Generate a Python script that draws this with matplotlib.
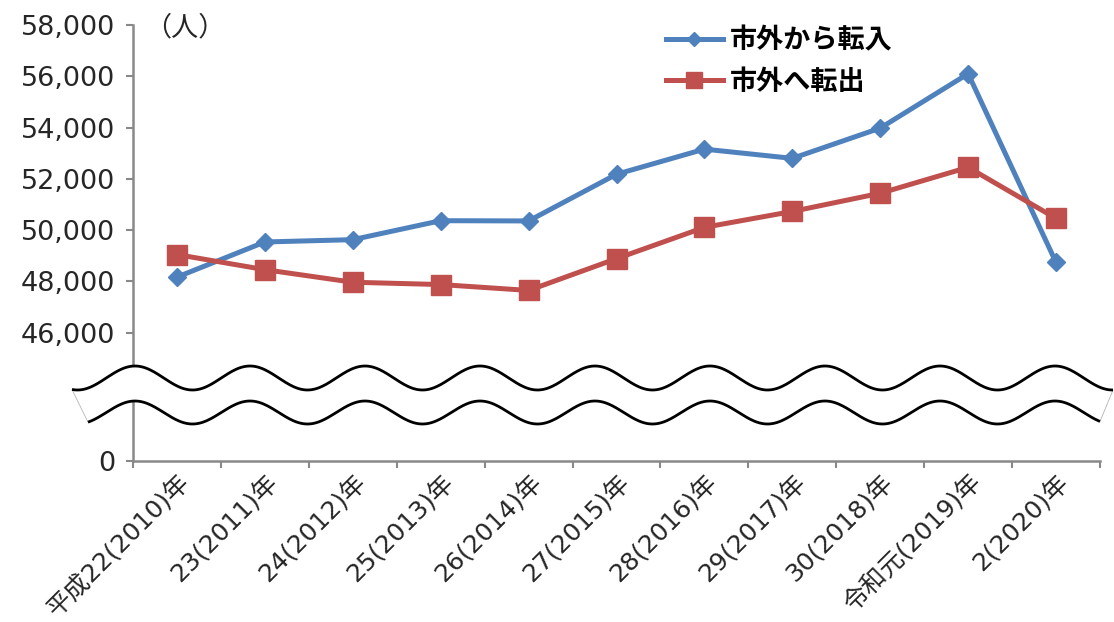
import numpy as np
import matplotlib
matplotlib.use("Agg")
import matplotlib.pyplot as plt
from matplotlib.transforms import Affine2D
from matplotlib.patches import Polygon

# --- data -------------------------------------------------------------
years = ["平成22(2010)年", "23(2011)年", "24(2012)年", "25(2013)年", "26(2014)年",
         "27(2015)年", "28(2016)年", "29(2017)年", "30(2018)年", "令和元(2019)年",
         "2(2020)年"]
moved_in = [48170, 49540, 49630, 50370, 50360, 52180, 53160, 52800, 53980, 56100, 48740]
moved_out = [49050, 48460, 47970, 47880, 47650, 48890, 50110, 50730, 51440, 52450, 50460]
series_names = ["市外から転入", "市外へ転出"]
ytick_values = [46000, 48000, 50000, 52000, 54000, 56000, 58000]
unit_label = "（人）"
axis_floor = 41000   # the axis is broken: the bottom of the frame stands for 0
axis_top = 58000

# --- style ------------------------------------------------------------
BLUE = "#4F81BD"
RED = "#C0504D"
AXIS_GRAY = "#898989"
TEXT = "#262626"
W, H = 1114, 622
LATIN_CJK = ["DejaVu Sans", "Noto Sans CJK JP"]
CJK = ["Noto Sans CJK JP", "DejaVu Sans"]

plt.rcParams["font.family"] = LATIN_CJK

fig = plt.figure(figsize=(W / 100, H / 100), dpi=100)
fig.patch.set_facecolor("white")
ax = fig.add_axes([133 / W, 1 - 461 / H, (1100 - 133) / W, (461 - 25) / H])

x = np.arange(len(years))
ax.plot(x, moved_in, color=BLUE, lw=3.6, marker="D", ms=9.5,
        mfc=BLUE, mec=BLUE, label=series_names[0], zorder=3)
ax.plot(x, moved_out, color=RED, lw=3.6, marker="s", ms=14.5,
        mfc=RED, mec=RED, label=series_names[1], zorder=3)

ax.set_xlim(-0.5, len(years) - 0.5)
ax.set_ylim(axis_floor, axis_top)

# y axis: the floor is labelled 0, the rest show the real values
ax.set_yticks([axis_floor] + ytick_values)
ax.set_yticklabels(["0"] + [f"{v:,}" for v in ytick_values])
ax.tick_params(axis="y", direction="out", length=5, width=1.5, color=AXIS_GRAY,
               labelsize=19.5, labelcolor=TEXT, pad=8)

# x axis: labels at categories, tick marks between categories
ax.set_xticks(x)
ax.set_xticklabels(years, rotation=45, ha="right", va="top",
                   rotation_mode="anchor")
ax.set_xticks(np.arange(-0.5, len(years)), minor=True)
ax.tick_params(axis="x", which="major", length=0, labelsize=18,
               labelcolor=TEXT, pad=6)
ax.tick_params(axis="x", which="minor", direction="out", length=5, width=1.5,
               color=AXIS_GRAY)

for side in ("top", "right"):
    ax.spines[side].set_visible(False)
for side in ("left", "bottom"):
    ax.spines[side].set_color(AXIS_GRAY)
    ax.spines[side].set_linewidth(1.8)

# legend without frame, upper right area
leg = ax.legend(loc="upper left", bbox_to_anchor=(666 / W, 1 - 26 / H),
                bbox_transform=fig.transFigure, frameon=False,
                prop={"family": CJK, "size": 19.5, "weight": "bold"},
                handlelength=2.1, handletextpad=0.25, labelspacing=0.5,
                borderpad=0, borderaxespad=0, markerscale=0.8)

fig.text(185 / W, 1 - 28 / H, unit_label, ha="center", va="center",
         fontsize=19.5, family=CJK, color=TEXT)

# wavy band marking the broken axis, drawn in figure pixels
px = Affine2D().scale(1 / W, -1 / H).translate(0, 1) + fig.transFigure
period, crest = 115.0, 135.0
xt = np.linspace(72, 1113, 800)
yt = 378 - 12 * np.cos(2 * np.pi * (xt - crest) / period)
xb = np.linspace(88, 1100, 800)
yb = 412.5 - 11.5 * np.cos(2 * np.pi * (xb - crest) / period)
band = np.vstack([np.column_stack([xt, yt]), np.column_stack([xb[::-1], yb[::-1]])])
fig.add_artist(Polygon(band, closed=True, facecolor="white", edgecolor="#b5b5b5",
                       lw=0.6, transform=px, zorder=20))
for xs, ys in ((xt, yt), (xb, yb)):
    fig.add_artist(plt.Line2D(xs, ys, color="black", lw=2.0, transform=px,
                              zorder=21, solid_capstyle="butt"))

fig.savefig("out.png", dpi=100, facecolor="white")
